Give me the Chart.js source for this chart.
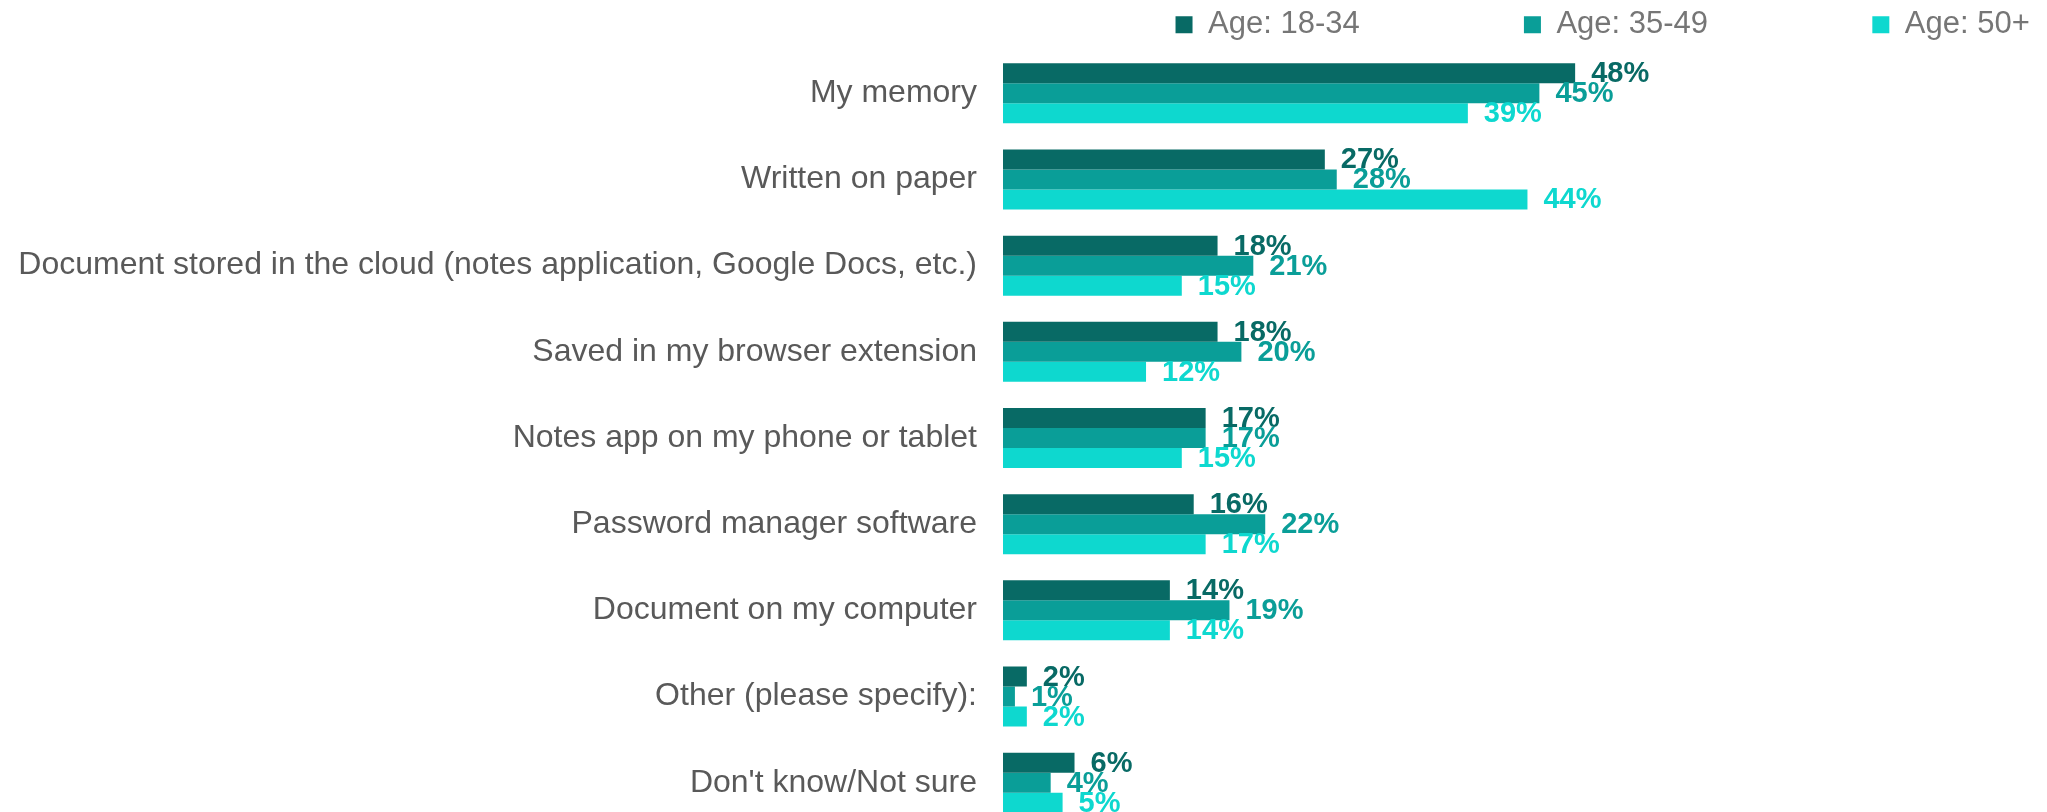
<!DOCTYPE html>
<html>
<head>
<meta charset="utf-8">
<script src="https://cdn.jsdelivr.net/npm/chart.js@4"></script>
<style>
  html, body { margin: 0; padding: 0; overflow: hidden; background: #fff; }
</style>
</head>
<body>
<canvas id="myChart" width="2047" height="876"></canvas>
<script>
var categories = [
  'My memory',
  'Written on paper',
  'Document stored in the cloud (notes application, Google Docs, etc.)',
  'Saved in my browser extension',
  'Notes app on my phone or tablet',
  'Password manager software',
  'Document on my computer',
  'Other (please specify):',
  "Don't know/Not sure"
];
var seriesNames = ['Age: 18-34', 'Age: 35-49', 'Age: 50+'];
var age18_34 = [48, 27, 18, 18, 17, 16, 14, 2, 6];
var age35_49 = [45, 28, 21, 20, 17, 22, 19, 1, 4];
var age50plus = [39, 44, 15, 12, 15, 17, 14, 2, 5];

var colors = ['#086a65', '#0a9e98', '#0ed8cf'];
var fontName = '"Liberation Sans", Arial, sans-serif';

var valueLabels = {
  id: 'valueLabels',
  afterLayout: function(chart) {
    // start the legend row a bit earlier so the last item doesn't wrap on rounding
    chart.legend.lineWidths[0] += 1;
  },
  afterDatasetsDraw: function(chart) {
    var ctx = chart.ctx;
    ctx.save();
    ctx.font = 'bold 29px ' + fontName;
    ctx.textAlign = 'left';
    ctx.textBaseline = 'middle';
    chart.data.datasets.forEach(function(ds, i) {
      var meta = chart.getDatasetMeta(i);
      ctx.fillStyle = ds.backgroundColor;
      meta.data.forEach(function(bar, j) {
        ctx.fillText(ds.data[j] + '%', bar.x + 16, bar.y + 1);
      });
    });
    ctx.restore();
  }
};

var ctx = document.getElementById('myChart');
var myChart = new Chart(ctx, {
  type: 'bar',
  data: {
    labels: categories,
    datasets: [
      { label: seriesNames[0], data: age18_34, backgroundColor: colors[0] },
      { label: seriesNames[1], data: age35_49, backgroundColor: colors[1] },
      { label: seriesNames[2], data: age50plus, backgroundColor: colors[2] }
    ]
  },
  options: {
    indexAxis: 'y',
    responsive: false,
    animation: false,
    devicePixelRatio: 1,
    categoryPercentage: 0.696,
    barPercentage: 1,
    layout: {
      padding: { top: -3, right: 7, bottom: 0, left: 0 }
    },
    plugins: {
      tooltip: { enabled: false },
      legend: {
        position: 'top',
        align: 'end',
        labels: {
          boxWidth: 17,
          boxHeight: 17,
          padding: 9.2,
          color: '#767676',
          font: { family: fontName, size: 31 },
          generateLabels: function(chart) {
            return chart.data.datasets.map(function(ds, i) {
              var pad = i < 2 ? '                  ' : '';
              return {
                text: ds.label + pad,
                fillStyle: ds.backgroundColor,
                strokeStyle: ds.backgroundColor,
                fontColor: '#767676',
                lineWidth: 0,
                hidden: false,
                datasetIndex: i
              };
            });
          }
        }
      }
    },
    scales: {
      x: {
        display: false,
        min: 0,
        max: 87
      },
      y: {
        grid: { display: false, drawTicks: true, tickLength: -5 },
        border: { display: false },
        ticks: {
          padding: 31,
          color: '#595959',
          font: { family: fontName, size: 32 }
        },
        afterFit: function(scale) { scale.width = 1003; }
      }
    }
  },
  plugins: [valueLabels]
});
</script>
</body>
</html>
